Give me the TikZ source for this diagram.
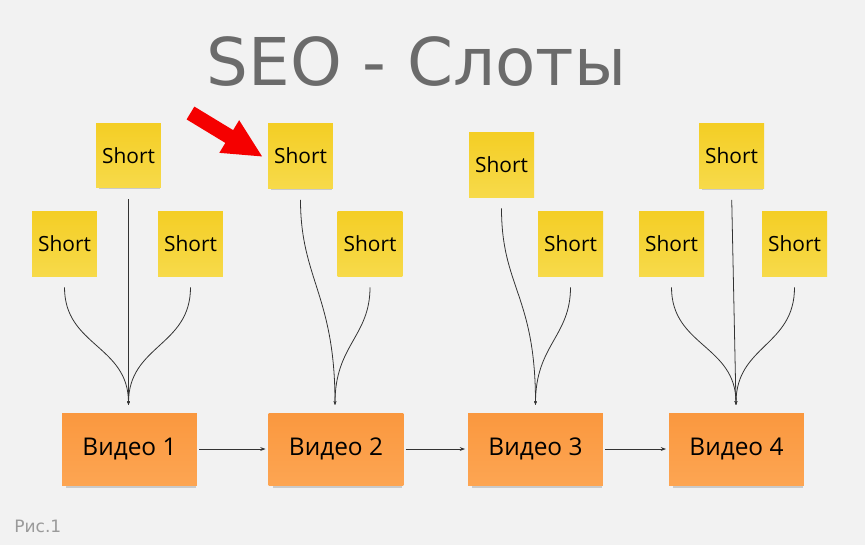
\documentclass[tikz,border=0pt]{standalone}
\usepackage{fontspec}
\setmainfont{Open Sans}
\newfontfamily\titlefont{DejaVu Sans}
\usetikzlibrary{arrows.meta,shadows}
\definecolor{bgcol}{HTML}{F2F2F2}
\definecolor{stickytop}{HTML}{F4CE25}
\definecolor{stickybot}{HTML}{F7DA4A}
\definecolor{videotop}{HTML}{FA983F}
\definecolor{videobot}{HTML}{FDA552}
\definecolor{titlegray}{HTML}{6B6B6B}
\definecolor{capgray}{HTML}{9A9A9A}
\definecolor{linkgray}{HTML}{333333}
\definecolor{pointred}{HTML}{F50000}

\begin{document}
\begin{tikzpicture}[x=0.02cm, y=-0.02cm,
  sticky/.style={minimum width=1.3cm, minimum height=1.3cm, inner sep=0pt,
    top color=stickytop, bottom color=stickybot, font=\fontsize{11.9}{14}\selectfont,
    drop shadow={shadow xshift=0.6pt, shadow yshift=-2.2pt, shadow scale=0.93, opacity=0.35}},
  video/.style={minimum width=2.7cm, minimum height=1.44cm, inner sep=0pt,
    top color=videotop, bottom color=videobot, font=\fontsize{13.9}{16}\selectfont,
    drop shadow={shadow xshift=1pt, shadow yshift=-2.4pt, shadow scale=0.96, opacity=0.35}},
  link/.style={draw=linkgray, line width=0.45pt, shorten <=0.22cm, -{Stealth[length=2.2pt,width=1.6pt]}},
  next/.style={draw=linkgray, line width=0.45pt, shorten <=1pt, shorten >=1.5pt, -{Stealth[length=3pt,width=2.2pt]}},
  pointer/.style={draw=pointred, line width=0.3cm, -{Triangle[length=0.79cm,width=0.7cm]}}]

\fill[bgcol] (0,0) rectangle (865,545);
\useasboundingbox (0,0) rectangle (865,545);

\node[font=\titlefont\fontsize{37.5}{40}\selectfont, text=titlegray, anchor=base] (title) at (416.5,85) {SEO - Слоты};

% shorts
\node[sticky] (t1) at (128.5,155.5) {Short};
\node[sticky] (l1) at (64.5,243.5) {Short};
\node[sticky] (r1) at (190.5,243.5) {Short};
\node[sticky] (t2) at (300.5,156) {Short};
\node[sticky] (r2) at (370,243.5) {Short};
\node[sticky] (t3) at (501.5,164.5) {Short};
\node[sticky] (r3) at (570.5,243.5) {Short};
\node[sticky] (t4) at (731.5,156) {Short};
\node[sticky] (l4) at (671.5,243.5) {Short};
\node[sticky] (r4) at (794.5,243.5) {Short};

% videos
\node[video] (v1) at (129.5,449) {Видео 1};
\node[video] (v2) at (336,449) {Видео 2};
\node[video] (v3) at (535.5,449) {Видео 3};
\node[video] (v4) at (736.5,449) {Видео 4};

\coordinate (c1) at (128.5,405);
\coordinate (c2) at (335,405);
\coordinate (c3) at (535.5,405);
\coordinate (c4) at (736,405);

\path[link] (t1.south) -- (c1);
\path[link] (l1.south) .. controls +(0,70) and +(0,-60) .. (c1);
\path[link] (r1.south) .. controls +(0,70) and +(0,-60) .. (c1);
\path[link] (t2.south) .. controls +(0,90) and +(0,-110) .. (c2);
\path[link] (r2.south) .. controls +(0,60) and +(0,-60) .. (c2);
\path[link] (t3.south) .. controls +(0,90) and +(0,-110) .. (c3);
\path[link] (r3.south) .. controls +(0,60) and +(0,-60) .. (c3);
\path[link] (t4.south) -- (c4);
\path[link] (l4.south) .. controls +(0,70) and +(0,-60) .. (c4);
\path[link] (r4.south) .. controls +(0,70) and +(0,-60) .. (c4);

\path[next] (v1) -- (v2);
\path[next] (v2) -- (v3);
\path[next] (v3) -- (v4);

% red pointer
\coordinate (p0) at (190.5,113);
\coordinate (p1) at (263,157);
\path[pointer] (p0) -- (p1);

\node[font=\titlefont\fontsize{9.7}{11}\selectfont, text=capgray, anchor=base west, inner sep=0pt] (fig) at (14,532) {Рис.1};
\end{tikzpicture}
\end{document}
